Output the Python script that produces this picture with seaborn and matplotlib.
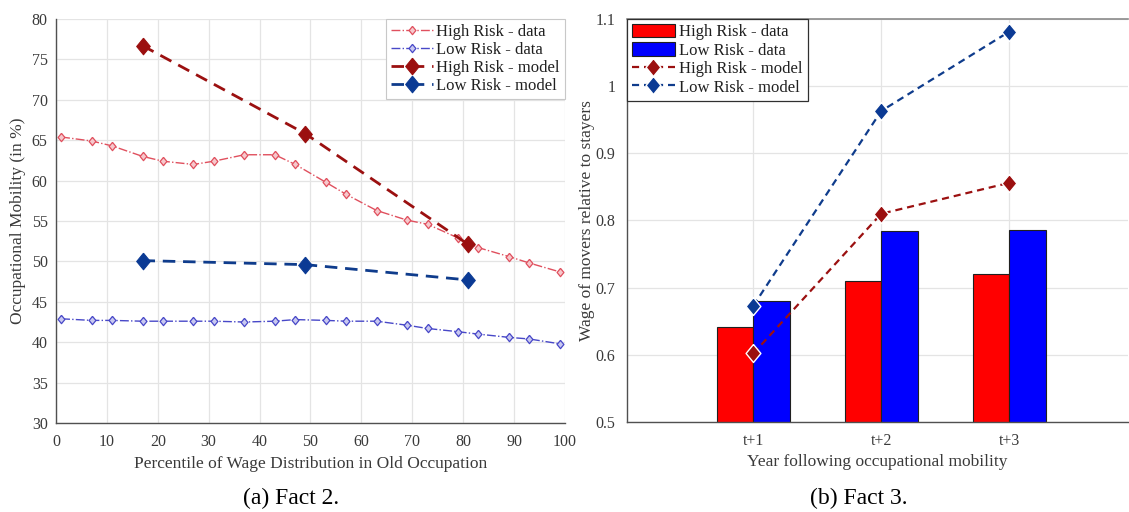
import numpy as np
import pandas as pd
import matplotlib
matplotlib.use("Agg")
import matplotlib.pyplot as plt
import seaborn as sns
from matplotlib.ticker import FuncFormatter

# ---------------- data: panel (a) ----------------
pct_data = [1, 7, 11, 17, 21, 27, 31, 37, 43, 47, 53, 57, 63, 69, 73, 79, 83, 89, 93, 99]
high_risk_data = [65.4, 64.9, 64.3, 63.0, 62.4, 62.0, 62.4, 63.2, 63.2, 62.0, 59.8, 58.3,
                  56.3, 55.1, 54.6, 52.9, 51.7, 50.6, 49.8, 48.7]
low_risk_data = [42.9, 42.7, 42.7, 42.6, 42.6, 42.6, 42.6, 42.5, 42.6, 42.8, 42.7, 42.6,
                 42.6, 42.1, 41.7, 41.3, 41.0, 40.6, 40.4, 39.8]
pct_model = [17, 49, 81]
high_risk_model = [76.7, 65.8, 52.1]
low_risk_model = [50.1, 49.6, 47.7]

# ---------------- data: panel (b) ----------------
years = ["t+1", "t+2", "t+3"]
high_risk_wage_data = [0.642, 0.710, 0.721]
low_risk_wage_data = [0.680, 0.784, 0.786]
high_risk_wage_model = [0.602, 0.810, 0.856]
low_risk_wage_model = [0.673, 0.963, 1.081]

# ---------------- styling ----------------
sns.set_style("whitegrid")
plt.rcParams["font.family"] = ["Liberation Serif", "DejaVu Serif"]

TXT = "#3a3a3a"
GRID = "#e4e4e4"
diamond = [(0, 1), (0.82, 0), (0, -1), (-0.82, 0), (0, 1)]

fig = plt.figure(figsize=(11.29, 5.12), dpi=100)
ax1 = fig.add_axes([0.0496, 0.1738, 0.4508, 0.7891])
ax2 = fig.add_axes([0.5551, 0.1758, 0.4440, 0.7871])

# ---------------- panel (a) ----------------
sns.lineplot(x=pct_data, y=high_risk_data, ax=ax1, color="#e0505e", linestyle="-.",
             linewidth=1.0, marker=diamond, markersize=6, markerfacecolor="#f6c8cc",
             markeredgecolor="#e0505e", markeredgewidth=0.9, errorbar=None,
             label="High Risk - data")
sns.lineplot(x=pct_data, y=low_risk_data, ax=ax1, color="#4848c8", linestyle="-.",
             linewidth=1.0, marker=diamond, markersize=6, markerfacecolor="#c8c8f0",
             markeredgecolor="#4848c8", markeredgewidth=0.9, errorbar=None,
             label="Low Risk - data")
sns.lineplot(x=pct_model, y=high_risk_model, ax=ax1, color="#9b1010",
             linestyle=(0, (4.5, 2.8)), linewidth=2.0, marker=diamond, markersize=12,
             markerfacecolor="#9b0f0f", markeredgecolor="#9b0f0f", errorbar=None,
             label="High Risk - model")
sns.lineplot(x=pct_model, y=low_risk_model, ax=ax1, color="#0f3c8c",
             linestyle=(0, (4.5, 2.8)), linewidth=2.0, marker=diamond, markersize=12,
             markerfacecolor="#0b3a94", markeredgecolor="#0b3a94", errorbar=None,
             label="Low Risk - model")

ax1.set_xlim(0, 100)
ax1.set_ylim(30, 80)
ax1.set_xticks(np.arange(0, 101, 10))
ax1.set_yticks(np.arange(30, 81, 5))
ax1.grid(True, color=GRID, linewidth=0.9)
ax1.set_axisbelow(True)
for s in ["top", "right"]:
    ax1.spines[s].set_visible(False)
for s in ["left", "bottom"]:
    ax1.spines[s].set_color("#505050")
    ax1.spines[s].set_linewidth(1.0)
ax1.tick_params(direction="in", length=4, width=0.8, color="#505050",
                labelsize=11.5, labelcolor=TXT, pad=6)
ax1.tick_params(axis="x", pad=8)
ax1.set_xlabel("Percentile of Wage Distribution in Old Occupation", fontsize=12.5, color=TXT)
ax1.set_ylabel("Occupational Mobility (in %)", fontsize=12.5, color=TXT)
ax1.xaxis.set_label_coords(0.5, -0.082)
ax1.yaxis.set_label_coords(-0.058, 0.5)
h1, l1 = ax1.get_legend_handles_labels()
leg1 = ax1.legend(h1, l1, loc="upper right", bbox_to_anchor=(1.0, 1.0), borderaxespad=0,
                  fontsize=12, frameon=True, fancybox=False, framealpha=1,
                  edgecolor="#c8c8c8", handlelength=2.5, handletextpad=0.2,
                  labelspacing=0.12, borderpad=0.3, numpoints=1)
leg1.get_frame().set_linewidth(0.8)
for t in leg1.get_texts():
    t.set_color("#202020")

# ---------------- panel (b) ----------------
df = pd.DataFrame({
    "year": years * 2,
    "value": high_risk_wage_data + low_risk_wage_data,
    "risk": ["High Risk - data"] * 3 + ["Low Risk - data"] * 3,
})
sns.barplot(data=df, x="year", y="value", hue="risk", ax=ax2, width=0.57,
            palette=["#ff0000", "#0000ff"], saturation=1, errorbar=None,
            edgecolor="#202020", linewidth=0.8, zorder=2)
pos = np.arange(len(years))
sns.lineplot(x=pos, y=high_risk_wage_model, ax=ax2, color="#9b1010",
             linestyle=(0, (3.2, 2.2)), linewidth=1.6, marker=diamond, markersize=13,
             markerfacecolor="#9b0f0f", markeredgecolor="white", markeredgewidth=1.0,
             errorbar=None, label="High Risk - model", zorder=3)
sns.lineplot(x=pos, y=low_risk_wage_model, ax=ax2, color="#0f3c8c",
             linestyle=(0, (3.2, 2.2)), linewidth=1.6, marker=diamond, markersize=13,
             markerfacecolor="#0b3a94", markeredgecolor="white", markeredgewidth=1.0,
             errorbar=None, label="Low Risk - model", zorder=3)

ax2.set_xlim(-0.99, 2.93)
ax2.set_ylim(0.5, 1.1)
ax2.set_yticks(np.arange(0.5, 1.101, 0.1))
ax2.yaxis.set_major_formatter(FuncFormatter(lambda v, p: f"{v:g}"))
ax2.set_xticks(pos)
ax2.set_xticklabels(years)
ax2.grid(True, color=GRID, linewidth=0.9)
ax2.xaxis.grid(True)
ax2.set_axisbelow(True)
ax2.spines["right"].set_visible(False)
ax2.spines["top"].set_color("#8a8a8a")
ax2.spines["top"].set_linewidth(1.2)
for s in ["left", "bottom"]:
    ax2.spines[s].set_color("#505050")
    ax2.spines[s].set_linewidth(1.0)
ax2.tick_params(direction="in", length=4, width=0.8, color="#505050",
                labelsize=11.5, labelcolor=TXT, pad=8)
ax2.tick_params(axis="x", pad=8, length=0)
ax2.set_xlabel("Year following occupational mobility", fontsize=12.5, color=TXT)
ax2.set_ylabel("Wage of movers relative to stayers", fontsize=12.5, color=TXT)
ax2.xaxis.set_label_coords(0.5, -0.079)
ax2.yaxis.set_label_coords(-0.064, 0.5)
h2, l2 = ax2.get_legend_handles_labels()
order = [l2.index(n) for n in ["High Risk - data", "Low Risk - data",
                               "High Risk - model", "Low Risk - model"]]
leg2 = ax2.legend([h2[i] for i in order], [l2[i] for i in order], loc="upper left",
                  bbox_to_anchor=(0.0, 1.0), borderaxespad=0, fontsize=12, frameon=True,
                  fancybox=False, framealpha=1, edgecolor="#303030", handlelength=2.6,
                  handleheight=0.85, handletextpad=0.25, labelspacing=0.12,
                  borderpad=0.3, numpoints=1)
leg2.get_frame().set_linewidth(0.9)
for t in leg2.get_texts():
    t.set_color("#202020")

# ---------------- captions ----------------
fig.text(0.2578, 0.027, "(a) Fact 2.", ha="center", va="center", fontsize=17, color="black")
fig.text(0.7608, 0.027, "(b) Fact 3.", ha="center", va="center", fontsize=17, color="black")

fig.savefig("out.png", dpi=100)
